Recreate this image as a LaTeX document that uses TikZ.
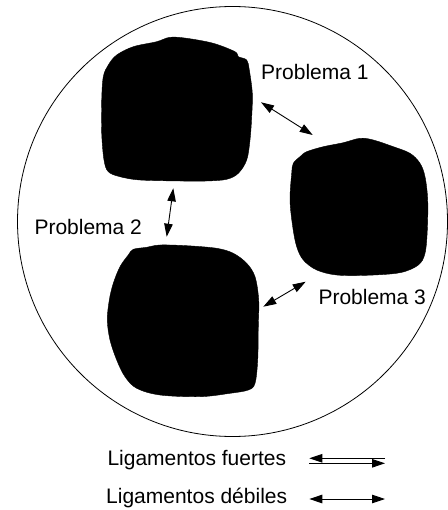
\documentclass[tikz,border=0pt]{standalone}
\usepackage{fontspec}
\setmainfont{Liberation Sans}
\usetikzlibrary{arrows.meta}
\begin{document}
\begin{tikzpicture}[x=1pt,y=-1pt,
  lbl/.style={anchor=base west,inner sep=0pt,font=\fontsize{21}{25}\selectfont},
  blob/.style={fill=black,draw=black},
  link/.style={line width=0.9pt,{Triangle[length=13pt,width=8.5pt]}-{Triangle[length=13pt,width=8.5pt]}},
  onehead/.style={line width=0.9pt,-{Triangle[length=13pt,width=8.5pt]}}]
\useasboundingbox (0,0) rectangle (447,510);
% outer circle
\draw[line width=0.8pt] (232.5,221.5) circle[radius=215];
% blob 1 (top)
\path[blob] plot[smooth cycle,tension=0.55] coordinates {
 (116.7,55) (133.3,46.7) (156.7,41.7) (170,37.3) (186.7,38.3) (213.3,43.3) (235,51.7)
 (238.3,56.7) (246.7,60) (249.3,70) (252.3,93.3) (251.7,116.7) (250,140) (246.7,160)
 (238.3,173.3) (226.7,179.3) (206.7,181) (180,181) (140,180) (120,176.7) (108.3,171.7)
 (104,160) (101.7,133.3) (101.7,100) (103.3,76.7) (108.3,65)};
% blob 2 (right)
\path[blob] plot[smooth cycle,tension=0.55] coordinates {
 (293.3,163.3) (300,156.7) (306.7,151.7) (323.3,146.7) (343.3,142.7) (360,138.3)
 (373.3,140) (393.3,146.7) (410,153.3) (420,163.3) (425,176.7) (427.7,200) (427.3,230)
 (425,253.3) (418.3,265) (400,272.7) (366.7,275.3) (336.7,275) (316.7,270) (303.3,260)
 (296.7,246.7) (292.7,226.7) (290,200) (291.7,173.3)};
% blob 3 (bottom left)
\path[blob] plot[smooth cycle,tension=0.55] coordinates {
 (128.3,255) (133.3,249.3) (146.7,247.3) (160,245) (186.7,245.7) (216.7,248.3)
 (233.3,253.3) (246.7,263.3) (255,276.7) (258.7,300) (258.3,326.7) (257.7,360)
 (255,383.3) (248.3,390) (230,393.3) (200,396.7) (160,395) (136.7,388.3) (125,376.7)
 (116.7,360) (110,340) (107.3,320) (109.3,300) (113.3,283.3) (120,266.7)};
% labels
\node[lbl] (p1) at (261,79.3) {Problema 1};
\node[lbl] (p2) at (34.3,234.3) {Problema 2};
\node[lbl] (p3) at (318.3,304) {Problema 3};
\node[lbl] (lf) at (107.3,465.5) {Ligamentos fuertes};
\node[lbl] (ld) at (106,503) {Ligamentos débiles};
% connectors between blobs
\coordinate (a1s) at (261,102.3);
\coordinate (a1e) at (312.7,135);
\coordinate (a2s) at (173.3,188.3);
\coordinate (a2e) at (166.7,236.7);
\coordinate (a3s) at (263.3,306.7);
\coordinate (a3e) at (305.7,281.7);
\draw[link] (a1s) -- (a1e);
\draw[link] (a2s) -- (a2e);
\draw[link] (a3s) -- (a3e);
% legend arrows
\coordinate (sl1) at (309.3,458.3);
\coordinate (sr1) at (385,458.3);
\coordinate (sl2) at (309.3,463.3);
\coordinate (sr2) at (385,463.3);
\draw[onehead] (sr1) -- (sl1);
\draw[onehead] (sl2) -- (sr2);
\coordinate (wl) at (309.3,499);
\coordinate (wr) at (385,499);
\draw[link] (wl) -- (wr);
\end{tikzpicture}
\end{document}
